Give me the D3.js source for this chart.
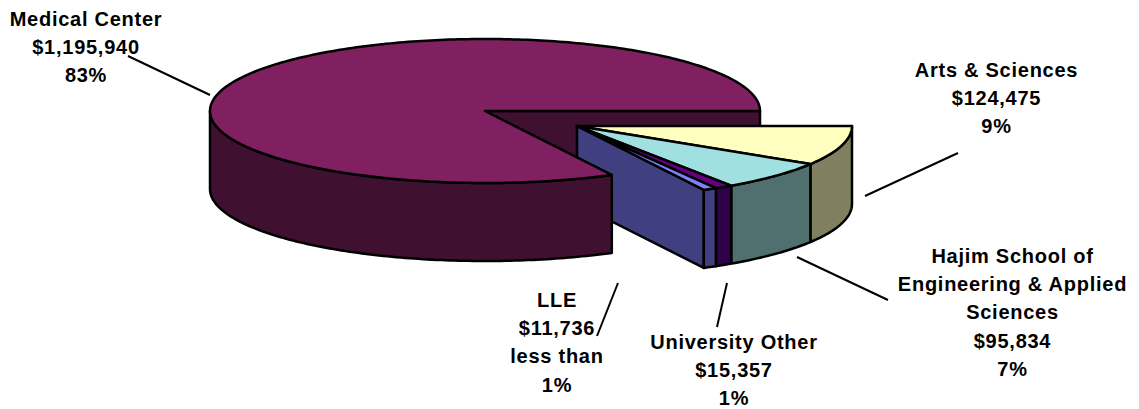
<!DOCTYPE html>
<html><head><meta charset="utf-8">
<script src="https://cdn.jsdelivr.net/npm/d3@7"></script>
<style>html,body{margin:0;padding:0;background:#fff;overflow:hidden}
text{font-family:"Liberation Sans",Arial,sans-serif;font-weight:700;font-size:20px;fill:#000;text-anchor:middle;letter-spacing:.74px}</style>
</head><body><svg id="c" width="1139" height="409"></svg>
<script>
const categories=["Arts & Sciences","Hajim School of Engineering & Applied Sciences","University Other","LLE","Medical Center"];
const values=[124475,95834,15357,11736,1195940];
const shareLabels=["9%","7%","1%","less than 1%","83%"];
const topColors=["#ffffc0","#a0e0e0","#660080","#8080ff","#802060"];
const wallColors=["#808060","#507070","#300048","#404080","#401030"];

const RX=275,RY=72,DEPTH=78,VIEW_SKEW=1;
const svg=d3.select("#c");
const deg=Math.PI/180;
const pie=d3.pie().sort(null).startAngle(90*deg).endAngle(450*deg).value(d=>d);
const arcs=pie(values);

function projector(cx,cy){
  const sx=d3.scaleLinear().domain([-1,1]).range([cx-RX,cx+RX]);
  const sy=d3.scaleLinear().domain([-1,1]).range([cy-RY,cy+RY]);
  return a=>{
    const v=a+VIEW_SKEW*deg*Math.sin(2*(a-90*deg));
    return [sx(Math.sin(v)),sy(-Math.cos(v))];
  };
}
const line=d3.line().curve(d3.curveLinear);
function arcPts(p,a0,a1){
  const n=Math.max(2,Math.ceil((a1-a0)/deg));
  return d3.range(n+1).map(i=>p(a0+(a1-a0)*i/n));
}
const down=q=>[q[0],q[1]+DEPTH];
function draw(d,fill){
  svg.append("path").attr("d",line(d)+"Z").attr("fill",fill)
    .attr("stroke","#000").attr("stroke-width",2.5).attr("stroke-linejoin","round");
}
function drawTop(p,c,arc,fill){draw([c,...arcPts(p,arc.startAngle,arc.endAngle)],fill);}
function drawWall(p,a0,a1,fill){
  const lo=Math.max(a0,90*deg),hi=Math.min(a1,270*deg);
  if(hi<=lo)return;
  const pts=arcPts(p,lo,hi);
  draw([...pts,...pts.slice().reverse().map(down)],fill);
}

const mc=[485,111],mp=projector(mc[0],mc[1]);
const ec=[577,126],ep=projector(ec[0],ec[1]);
const main=arcs[4],small=arcs.slice(0,4);

const cutEnd=mp(main.endAngle);
draw([mc,cutEnd,down(cutEnd),down(mc)],wallColors[4]);

const last=small[small.length-1];
const lastEnd=ep(last.endAngle);
draw([ec,lastEnd,down(lastEnd),down(ec)],wallColors[3]);
small.forEach((a,i)=>drawWall(ep,a.startAngle,a.endAngle,wallColors[i]));
small.forEach((a,i)=>drawTop(ep,ec,a,topColors[i]));

drawWall(mp,main.startAngle,main.endAngle,wallColors[4]);
drawTop(mp,mc,main,topColors[4]);

[[128,56,210,95],[958,153,865,196],[797,257,888,300],[618,283,597,336],[727,283,717,327]]
 .forEach(l=>svg.append("line").attr("x1",l[0]).attr("y1",l[1]).attr("x2",l[2]).attr("y2",l[3])
   .attr("stroke","#000").attr("stroke-width",2));

const fmt=d3.format("$,");
const labelSpecs=[
 {i:4,x:86,y:26,lines:["Medical Center",fmt(values[4]),shareLabels[4]]},
 {i:0,x:996.5,y:77,lines:["Arts & Sciences",fmt(values[0]),shareLabels[0]]},
 {i:1,x:1012.5,y:263,lines:["Hajim School of","Engineering & Applied","Sciences",fmt(values[1]),shareLabels[1]]},
 {i:3,x:557,y:307,lines:["LLE",fmt(values[3]),"less than","1%"]},
 {i:2,x:734,y:349,lines:["University Other",fmt(values[2]),shareLabels[2]]}
];
labelSpecs.forEach(s=>{
  const t=svg.append("text").attr("data-category",categories[s.i]);
  s.lines.forEach((l,k)=>t.append("tspan").attr("x",s.x).attr("y",s.y+k*28.2).text(l));
});
</script></body></html>
